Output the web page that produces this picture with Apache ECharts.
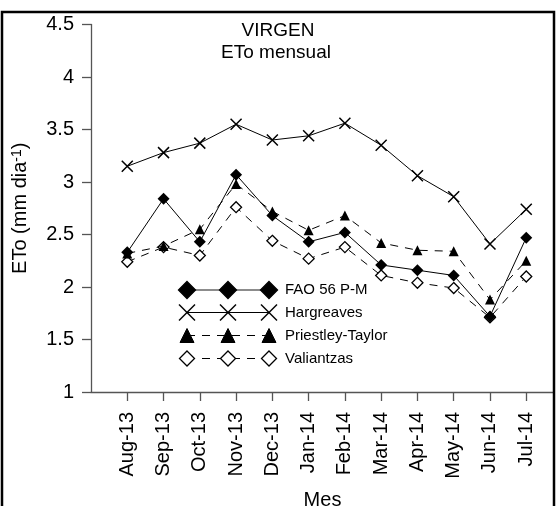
<!DOCTYPE html>
<html><head><meta charset="utf-8">
<script src="https://cdn.jsdelivr.net/npm/echarts@6/dist/echarts.min.js"></script>
<style>html,body{margin:0;padding:0;background:#fff;overflow:hidden}#c{width:557px;height:506px}</style>
</head><body><div id="c"></div>
<script>
const months = ['Aug-13','Sep-13','Oct-13','Nov-13','Dec-13','Jan-14','Feb-14','Mar-14','Apr-14','May-14','Jun-14','Jul-14'];
const fao = [2.33, 2.84, 2.43, 3.07, 2.68, 2.43, 2.52, 2.21, 2.16, 2.11, 1.72, 2.47];
const hargreaves = [3.15, 3.28, 3.37, 3.55, 3.40, 3.44, 3.56, 3.35, 3.06, 2.86, 2.41, 2.74];
const priestley = [2.32, 2.39, 2.55, 2.98, 2.72, 2.54, 2.68, 2.42, 2.35, 2.34, 1.88, 2.25];
const valiantzas = [2.24, 2.38, 2.30, 2.76, 2.44, 2.27, 2.38, 2.11, 2.04, 1.99, 1.71, 2.10];
const seriesNames = ['FAO 56 P-M', 'Hargreaves', 'Priestley-Taylor', 'Valiantzas'];
const yMin = 1, yMax = 4.5, yStep = 0.5;

const FONT = '"Liberation Sans", Arial, sans-serif';
const X_PATH = 'path://M0,0L10,10M0,10L10,0';
const toPts = arr => arr.map((v, i) => [i + 1, v]);
const tickIdx = months.map((m, i) => i + 1);

// legend decoration (graphic)
function legendRow(y, kind, lineStyle, name) {
  const xs = [187, 228, 269];
  const els = [];
  els.push({type: 'line', shape: {x1: xs[0], y1: y, x2: xs[2], y2: y},
    style: Object.assign({stroke: '#000', lineWidth: 1}, lineStyle), z: 10});
  xs.forEach(cx => {
    if (kind === 'diamond' || kind === 'odiamond') {
      const s = kind === 'diamond' ? 8.5 : 7.5;
      els.push({type: 'polygon', shape: {points: [[cx, y - s], [cx + s, y], [cx, y + s], [cx - s, y]]},
        style: {fill: kind === 'diamond' ? '#000' : '#fff', stroke: '#000', lineWidth: 1.3}, z: 11});
    } else if (kind === 'tri') {
      const s = 7;
      els.push({type: 'polygon', shape: {points: [[cx, y - s], [cx + s, y + s], [cx - s, y + s]]},
        style: {fill: '#000', stroke: '#000', lineWidth: 1}, z: 11});
    } else {
      const s = 8;
      els.push({type: 'line', shape: {x1: cx - s, y1: y - s, x2: cx + s, y2: y + s}, style: {stroke: '#000', lineWidth: 1.5}, z: 11});
      els.push({type: 'line', shape: {x1: cx - s, y1: y + s, x2: cx + s, y2: y - s}, style: {stroke: '#000', lineWidth: 1.5}, z: 11});
    }
  });
  els.push({type: 'text', style: {x: 285, y: y, text: name, font: '15px ' + FONT, fill: '#000', textVerticalAlign: 'middle'}, z: 11});
  return els;
}

const graphics = [
  {type: 'rect', shape: {x: 2, y: 12, width: 552, height: 530}, style: {fill: 'none', stroke: '#000', lineWidth: 2.5}, z: 20},
  {type: 'text', style: {x: 278, y: 31, text: 'VIRGEN', font: '19px ' + FONT, fill: '#000', textAlign: 'center', textVerticalAlign: 'middle'}},
  {type: 'text', style: {x: 276, y: 53, text: 'ETo mensual', font: '19px ' + FONT, fill: '#000', textAlign: 'center', textVerticalAlign: 'middle'}}
]
.concat(legendRow(290, 'diamond', {stroke: '#666', lineWidth: 1.5}, seriesNames[0]))
.concat(legendRow(312.5, 'x', {stroke: '#000', lineWidth: 1.2}, seriesNames[1]))
.concat(legendRow(335.5, 'tri', {stroke: '#000', lineWidth: 1, lineDash: [8, 7]}, seriesNames[2]))
.concat(legendRow(358.5, 'odiamond', {stroke: '#000', lineWidth: 1, lineDash: [8, 7]}, seriesNames[3]));

const chart = echarts.init(document.getElementById('c'), null, {renderer: 'canvas'});
chart.setOption({
  animation: false,
  backgroundColor: '#fff',
  textStyle: {fontFamily: FONT},
  grid: {left: 91, right: 3, top: 24.5, bottom: 114, containLabel: false, outerBoundsMode: 'none'},
  xAxis: {
    type: 'value', min: 0, max: 12.765, interval: 1,
    name: 'Mes', nameLocation: 'middle', nameGap: 98,
    nameTextStyle: {fontSize: 20, color: '#000', fontFamily: FONT},
    splitLine: {show: false},
    axisLine: {lineStyle: {color: '#555', width: 1.3}},
    axisTick: {show: true, inside: false, length: 9, customValues: tickIdx, lineStyle: {color: '#555', width: 1.3}},
    axisLabel: {customValues: tickIdx, rotate: 90, margin: 20, fontSize: 20, color: '#000', fontFamily: FONT,
      formatter: v => months[Math.round(v) - 1] || ''}
  },
  yAxis: {
    type: 'value', min: yMin, max: yMax, interval: yStep,
    name: 'ETo (mm dia{sup|-1})', nameLocation: 'middle', nameGap: 61, nameRotate: 90,
    nameTextStyle: {fontSize: 20, color: '#000', fontFamily: FONT,
      rich: {sup: {fontSize: 14, color: '#000', fontFamily: FONT, verticalAlign: 'top', lineHeight: 20}}},
    splitLine: {show: false},
    axisLine: {show: true, lineStyle: {color: '#555', width: 1.3}},
    axisTick: {show: true, length: 9, lineStyle: {color: '#555', width: 1.3}},
    axisLabel: {margin: 17, fontSize: 20, color: '#000', fontFamily: FONT}
  },
  series: [
    {name: seriesNames[3], type: 'line', data: toPts(valiantzas), symbol: 'diamond', symbolSize: 11,
     itemStyle: {color: '#fff', borderColor: '#000', borderWidth: 1.3},
     lineStyle: {color: '#000', width: 1, type: [8, 7]}, z: 2},
    {name: seriesNames[2], type: 'line', data: toPts(priestley), symbol: 'triangle', symbolSize: 10,
     itemStyle: {color: '#000', borderColor: '#000', borderWidth: 0},
     lineStyle: {color: '#000', width: 1, type: [8, 7]}, z: 3},
    {name: seriesNames[1], type: 'line', data: toPts(hargreaves), symbol: X_PATH, symbolSize: 11,
     itemStyle: {color: 'rgba(0,0,0,0)', borderColor: '#000', borderWidth: 1.5},
     lineStyle: {color: '#000', width: 1}, z: 4},
    {name: seriesNames[0], type: 'line', data: toPts(fao), symbol: 'diamond', symbolSize: 12,
     itemStyle: {color: '#000', borderColor: '#000', borderWidth: 0},
     lineStyle: {color: '#000', width: 1}, z: 5}
  ],
  graphic: graphics
});
</script></body></html>
